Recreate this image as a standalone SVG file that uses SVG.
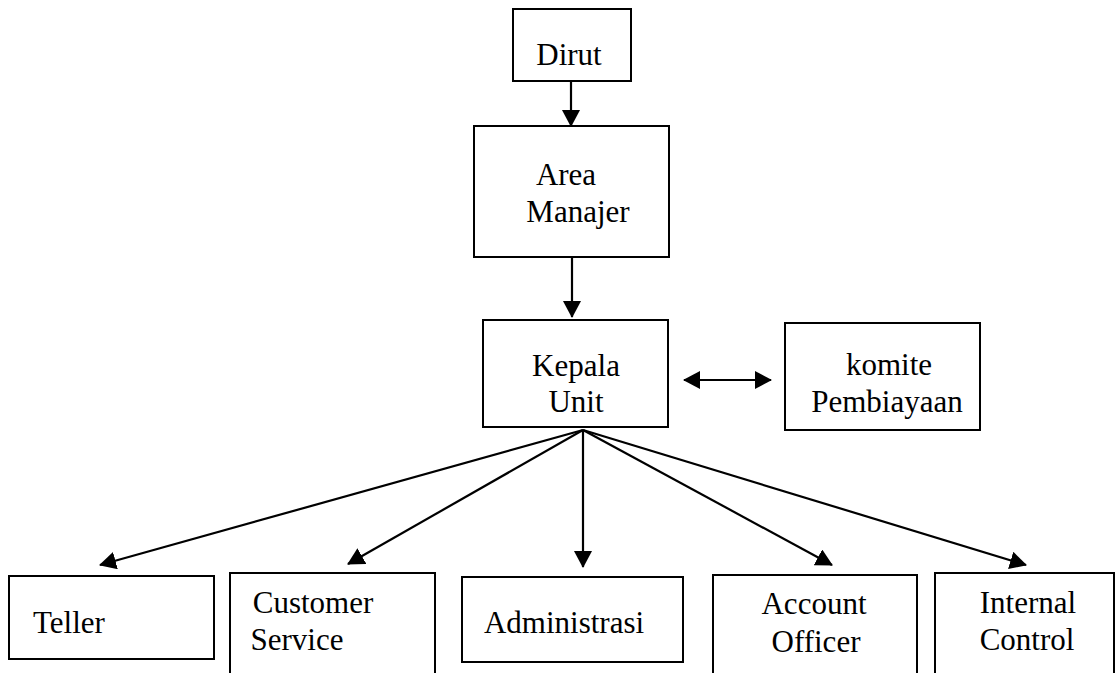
<svg xmlns="http://www.w3.org/2000/svg" width="1116" height="673" viewBox="0 0 1116 673">
<style>
.box{fill:#fff;stroke:#000;stroke-width:2}
.t{font-family:'Liberation Serif','Times New Roman',Times,'DejaVu Serif',serif;font-size:31px;fill:#000;text-anchor:middle}
.c{stroke:#000;stroke-width:2.2;fill:none;marker-end:url(#ah)}
</style>
<defs>
<marker id="ah" markerUnits="userSpaceOnUse" markerWidth="17" markerHeight="18" viewBox="0 0 17 18" refX="16" refY="9" orient="auto-start-reverse">
<path d="M0,0 L17,9 L0,18 z" fill="#000"/>
</marker>
</defs>
<rect width="1116" height="673" fill="#fff"/>
<g id="connectors">
<line class="c" x1="571" y1="81" x2="571" y2="126"/>
<line class="c" x1="572" y1="258" x2="572" y2="317"/>
<line class="c" x1="684" y1="380" x2="771" y2="380" style="marker-start:url(#ah)"/>
<line class="c" x1="583" y1="430" x2="100" y2="565"/>
<line class="c" x1="583" y1="430" x2="348" y2="564"/>
<line class="c" x1="583" y1="430" x2="583" y2="567"/>
<line class="c" x1="583" y1="430" x2="832" y2="565"/>
<line class="c" x1="583" y1="430" x2="1026" y2="565"/>
</g>
<g id="dirut">
<rect class="box" x="513" y="9" width="118" height="72"/>
<text class="t" font-family="Liberation Serif" x="569" y="65">Dirut</text>
</g>
<g id="area-manajer">
<rect class="box" x="474" y="126" width="195" height="131"/>
<text class="t" x="566" y="185">Area</text>
<text class="t" x="578" y="222">Manajer</text>
</g>
<g id="kepala-unit">
<rect class="box" x="483" y="320" width="185" height="107"/>
<text class="t" x="576" y="376">Kepala</text>
<text class="t" x="576" y="412">Unit</text>
</g>
<g id="komite-pembiayaan">
<rect class="box" x="785" y="323" width="195" height="107"/>
<text class="t" x="889" y="375">komite</text>
<text class="t" x="887" y="412">Pembiayaan</text>
</g>
<g id="teller">
<rect class="box" x="9" y="576" width="205" height="83"/>
<text class="t" x="69" y="633">Teller</text>
</g>
<g id="customer-service">
<rect class="box" x="230" y="573" width="205" height="120"/>
<text class="t" x="313" y="613">Customer</text>
<text class="t" x="297" y="650">Service</text>
</g>
<g id="administrasi">
<rect class="box" x="462" y="577" width="221" height="85"/>
<text class="t" x="564" y="633">Administrasi</text>
</g>
<g id="account-officer">
<rect class="box" x="713" y="575" width="204" height="120"/>
<text class="t" x="814" y="614">Account</text>
<text class="t" x="816" y="652">Officer</text>
</g>
<g id="internal-control">
<rect class="box" x="935" y="573" width="179" height="120"/>
<text class="t" x="1028" y="613">Internal</text>
<text class="t" x="1027" y="650">Control</text>
</g>
</svg>
